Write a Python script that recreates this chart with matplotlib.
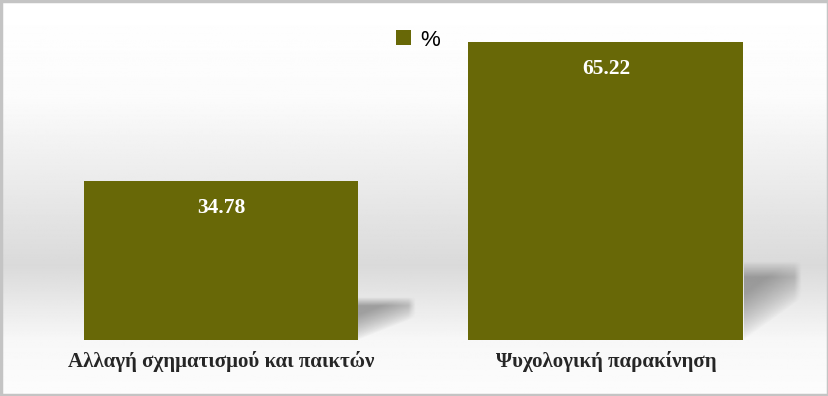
import numpy as np
import matplotlib
matplotlib.use("Agg")
import matplotlib.pyplot as plt
from matplotlib.patches import Rectangle

categories = ["Αλλαγή σχηματισμού και παικτών", "Ψυχολογική παρακίνηση"]
values = [34.78, 65.22]
series_name = "%"

BAR = "#686807"
W, H = 829, 396

fig = plt.figure(figsize=(W / 100, H / 100), dpi=100)

# background gradient: white top -> light gray -> white bottom
bg = fig.add_axes([0, 0, 1, 1], zorder=-5)
ys = np.linspace(0, 1, 400)
stops_y = [0.0, 0.25, 0.67, 0.86, 1.0]
stops_c = [1.0, 0.985, 0.855, 0.97, 0.99]
col = np.interp(ys, stops_y, stops_c)
img = np.repeat(col[:, None], 10, axis=1)
bg.imshow(img, cmap="gray", vmin=0, vmax=1, aspect="auto", extent=[0, 1, 1, 0])
bg.set_axis_off()

# main axes: baseline at y=340 px, 4.57 px per unit
ppu = 4.57
ymax = 72
ax = fig.add_axes([0, (H - 340) / H, 1, ymax * ppu / H])
ax.patch.set_alpha(0)
spacing = 385
x0 = 221
xs = np.arange(len(categories))
width = 275 / spacing

# soft shadows to the right of each bar
sw = 58 / spacing
u = np.linspace(0, 1, 100)[None, :]
v = np.linspace(0, 1, 100)[:, None]
alpha = (np.clip((1 - v) * 1.7 - u * 0.9, 0, 1) ** 0.8
         * np.clip(v * 5, 0, 1) * np.clip((1 - u) * 8, 0, 1))
shadow = np.zeros((100, 100, 4))
shadow[..., :3] = 0.42
shadow[..., 3] = alpha * 0.6
for x, val in zip(xs, values):
    sh = val * 0.265
    ax.imshow(shadow, extent=[x + width / 2, x + width / 2 + sw, 0, sh],
              aspect="auto", zorder=1, interpolation="bilinear")

bars = ax.bar(xs, values, width=width, color=BAR, zorder=2, label=series_name)
ax.set_xlim(-x0 / spacing, (W - x0) / spacing)
ax.set_ylim(0, ymax)

for x, val in zip(xs, values):
    ax.text(x, val - 27 / ppu, f"{val:.2f}", ha="center", va="center",
            color="white", fontsize=15.5, fontweight="bold",
            family="Liberation Serif", zorder=3)

ax.set_xticks(xs)
ax.set_xticklabels(categories, fontsize=15, fontweight="bold",
                   family="Liberation Serif", color="#262626")
ax.tick_params(axis="x", length=0, pad=8)
ax.set_yticks([])
for s in ax.spines.values():
    s.set_visible(False)

fig.legend(handles=[bars], labels=[series_name], loc="center",
           bbox_to_anchor=(418 / W, 1 - 40 / H), frameon=False,
           prop={"family": "Liberation Sans", "size": 16},
           handlelength=0.65, handleheight=0.65, handletextpad=0.4)

fig.patches.append(Rectangle((0.0015, 0.003), 0.997, 0.994, transform=fig.transFigure,
                             fill=False, edgecolor="#c4c4c4", linewidth=2.5))

fig.savefig("out.png", dpi=100)
